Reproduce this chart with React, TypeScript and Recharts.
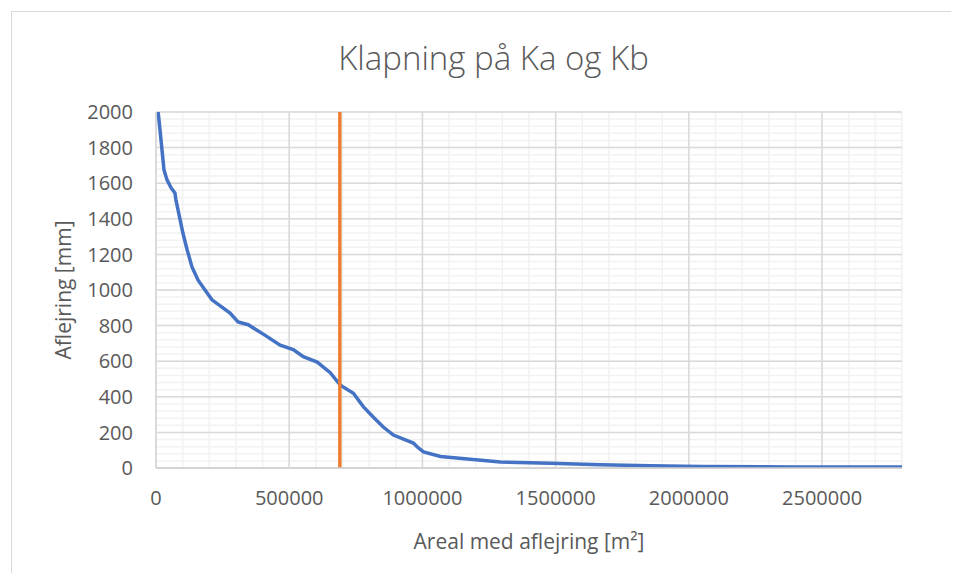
import React from "react";
import { LineChart, Line, XAxis, YAxis, CartesianGrid, Label } from "recharts";

// area with deposit [m2] vs deposit thickness [mm]
const arealM2 = [
  8000, 15000, 30000, 41000, 56000, 71000, 75000, 101000, 117000, 135000, 158000, 184000, 210000,
  278000, 308000, 346000, 410000, 466000, 515000, 553000, 605000, 654000, 692000, 741000, 778000,
  816000, 853000, 891000, 966000, 981000, 1004000, 1068000, 1169000, 1293000, 1481000, 1669000,
  1857000, 2045000, 2400000, 2800000,
];
const aflejringMm = [
  2000, 1900, 1675, 1620, 1575, 1545, 1505, 1320, 1225, 1130, 1055, 1000, 945, 870, 820, 805, 745,
  690, 665, 625, 595, 535, 465, 420, 345, 285, 230, 185, 140, 118, 90, 65, 50, 34, 26, 18, 12, 8,
  6, 5,
];

const markerX = [690000, 690000];
const markerY = [0, 2000];

const xTicks = [0, 500000, 1000000, 1500000, 2000000, 2500000];
const yTicks = [0, 200, 400, 600, 800, 1000, 1200, 1400, 1600, 1800, 2000];
const xMax = 2800000;

const curve = arealM2.map((x, i) => ({ x, y: aflejringMm[i] }));
const marker = markerX.map((x, i) => ({ x, y: markerY[i] }));

const minorX: number[] = [];
for (let v = 0; v <= xMax; v += 100000) minorX.push(v);
const minorY: number[] = [];
for (let v = 0; v <= 2000; v += 40) minorY.push(v);

const font = "'Open Sans', sans-serif";
const textColor = "#595959";

const scaleOf = (axis: any, fallback: (v: number) => number) => {
  const s = axis && axis.scale;
  if (typeof s === "function") return (v: number) => s(v);
  if (s && typeof s.map === "function") return (v: number) => s.map(v);
  return fallback;
};

export default function App() {
  return (
    <div style={{ margin: -8, width: 959, height: 581, position: "relative", overflow: "hidden", background: "#fff" }}>
      <div style={{ position: "absolute", left: 11, top: 11, width: 1000, height: 1000, border: "1px solid #d9d9d9" }} />
      <div
        style={{
          position: "absolute",
          left: 12,
          width: 963,
          top: 35,
          textAlign: "center",
          fontFamily: font,
          fontWeight: 300,
          fontSize: 33,
          color: textColor,
        }}
      >
        Klapning på Ka og Kb
      </div>
      <LineChart
        width={959}
        height={581}
        margin={{ top: 112, right: 57, left: 0, bottom: 73 }}
        style={{ position: "absolute", left: 0, top: 0 }}
      >
        <CartesianGrid
          stroke="#f2f2f2"
          strokeWidth={1.5}
          horizontalCoordinatesGenerator={({ yAxis, offset }: any) =>
            minorY.map(scaleOf(yAxis, (v) => offset.top + offset.height * (1 - v / 2000)))
          }
          verticalCoordinatesGenerator={({ xAxis, offset }: any) =>
            minorX.map(scaleOf(xAxis, (v) => offset.left + (offset.width * v) / xMax))
          }
        />
        <CartesianGrid
          stroke="#d9d9d9"
          strokeWidth={1.5}
          horizontalCoordinatesGenerator={({ yAxis, offset }: any) =>
            yTicks.map(scaleOf(yAxis, (v) => offset.top + offset.height * (1 - v / 2000)))
          }
          verticalCoordinatesGenerator={({ xAxis, offset }: any) =>
            xTicks.map(scaleOf(xAxis, (v) => offset.left + (offset.width * v) / xMax))
          }
        />
        <XAxis
          dataKey="x"
          type="number"
          domain={[0, xMax]}
          ticks={xTicks}
          allowDataOverflow
          height={40}
          axisLine={{ stroke: "#d0d0d0", strokeWidth: 1.5 }}
          tickLine={false}
          tickSize={0}
          tickMargin={23}
          tick={{ fill: textColor, fontSize: 20, fontFamily: font }}
        >
          <Label
            value="Areal med aflejring [m²]"
            position="insideBottom"
            offset={-41}
            style={{ fill: textColor, fontSize: 21, fontFamily: font }}
          />
        </XAxis>
        <YAxis
          dataKey="y"
          type="number"
          domain={[0, 2000]}
          ticks={yTicks}
          allowDataOverflow
          width={156}
          axisLine={{ stroke: "#d9d9d9", strokeWidth: 1.5 }}
          tickLine={false}
          tickSize={0}
          tickMargin={23}
          tick={{ fill: textColor, fontSize: 20, fontFamily: font }}
        >
          <Label
            value="Aflejring [mm]"
            angle={-90}
            position="insideLeft"
            offset={64}
            style={{ fill: textColor, fontSize: 21, fontFamily: font, textAnchor: "middle" }}
          />
        </YAxis>
        <Line
          data={curve}
          dataKey="y"
          type="linear"
          stroke="#4472C4"
          strokeWidth={3.5}
          dot={false}
          isAnimationActive={false}
        />
        <Line
          data={marker}
          dataKey="y"
          type="linear"
          stroke="#ED7D31"
          strokeWidth={3.5}
          dot={false}
          isAnimationActive={false}
        />
      </LineChart>
    </div>
  );
}
